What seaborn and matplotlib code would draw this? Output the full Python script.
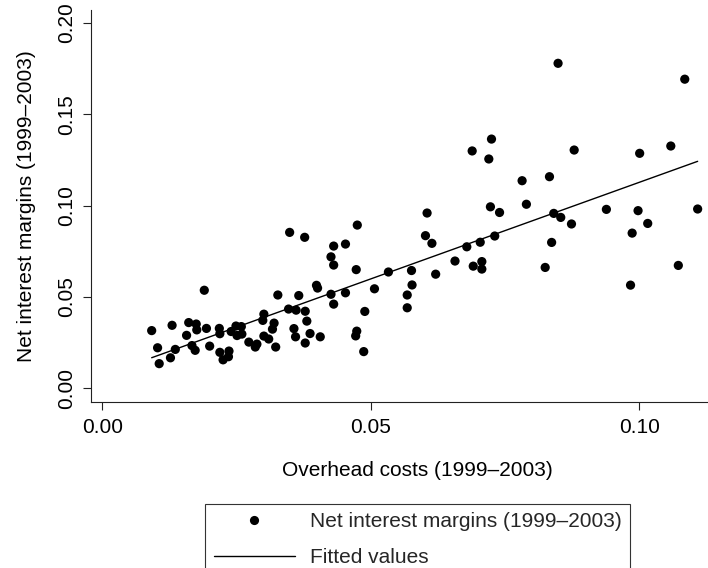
import numpy as np
import pandas as pd
import matplotlib
matplotlib.use("Agg")
import matplotlib.pyplot as plt
from matplotlib.lines import Line2D
import seaborn as sns

# Bank-level averages, 1999-2003
overhead_costs = [
    0.0092, 0.0103, 0.0106, 0.0130, 0.0127, 0.0136, 0.0190, 0.0161, 0.0175, 0.0176,
    0.0157, 0.0167, 0.0173, 0.0194, 0.0200, 0.0218, 0.0219, 0.0219, 0.0225, 0.0236,
    0.0235, 0.0240, 0.0249, 0.0259, 0.0260, 0.0251, 0.0273, 0.0285, 0.0288, 0.0301,
    0.0299, 0.0320, 0.0317, 0.0301, 0.0310, 0.0323, 0.0327, 0.0366, 0.0399, 0.0401,
    0.0347, 0.0361, 0.0378, 0.0381, 0.0357, 0.0360, 0.0387, 0.0378, 0.0406, 0.0349,
    0.0377, 0.0475, 0.0431, 0.0453, 0.0426, 0.0431, 0.0473, 0.0426, 0.0431, 0.0453,
    0.0507, 0.0489, 0.0474, 0.0472, 0.0487, 0.0533, 0.0576, 0.0577, 0.0568, 0.0568,
    0.0605, 0.0602, 0.0614, 0.0621, 0.0657, 0.0679, 0.0704, 0.0691, 0.0707, 0.0707,
    0.0689, 0.0725, 0.0720, 0.0723, 0.0740, 0.0731, 0.0782, 0.0790, 0.0833, 0.0841,
    0.0854, 0.0874, 0.0837, 0.0825, 0.0849, 0.0879, 0.0939, 0.0998, 0.1016, 0.0987,
    0.0984, 0.1001, 0.1059, 0.1085, 0.1073, 0.1109,
]
net_interest_margins = [
    0.0315, 0.0221, 0.0134, 0.0344, 0.0166, 0.0212, 0.0536, 0.0359, 0.0351, 0.0319,
    0.0289, 0.0233, 0.0207, 0.0327, 0.0230, 0.0327, 0.0298, 0.0196, 0.0155, 0.0203,
    0.0172, 0.0310, 0.0340, 0.0337, 0.0296, 0.0288, 0.0252, 0.0225, 0.0241, 0.0405,
    0.0371, 0.0356, 0.0323, 0.0285, 0.0269, 0.0225, 0.0510, 0.0507, 0.0563, 0.0548,
    0.0433, 0.0427, 0.0421, 0.0367, 0.0326, 0.0281, 0.0299, 0.0247, 0.0281, 0.0853,
    0.0826, 0.0893, 0.0778, 0.0789, 0.0719, 0.0674, 0.0649, 0.0514, 0.0460, 0.0522,
    0.0544, 0.0420, 0.0312, 0.0286, 0.0200, 0.0636, 0.0644, 0.0565, 0.0510, 0.0440,
    0.0959, 0.0835, 0.0793, 0.0624, 0.0696, 0.0774, 0.0799, 0.0668, 0.0693, 0.0652,
    0.1299, 0.1364, 0.1255, 0.0993, 0.0962, 0.0833, 0.1136, 0.1007, 0.1158, 0.0957,
    0.0935, 0.0899, 0.0798, 0.0661, 0.1779, 0.1304, 0.0979, 0.0972, 0.0902, 0.0849,
    0.0564, 0.1286, 0.1326, 0.1692, 0.0672, 0.0981,
]

x_ticks = [0.00, 0.05, 0.10]
y_ticks = [0.00, 0.05, 0.10, 0.15, 0.20]

x_title = "Overhead costs (1999–2003)"
y_title = "Net interest margins (1999–2003)"
scatter_label = "Net interest margins (1999–2003)"
fit_label = "Fitted values"

df = pd.DataFrame({"overhead": overhead_costs, "nim": net_interest_margins})

sns.set_theme(style="ticks")
plt.rcParams["font.family"] = ["Liberation Sans", "DejaVu Sans"]

FS = 15

fig = plt.figure(figsize=(7.08, 5.68), dpi=100)
ax = fig.add_axes([0.1281, 0.2931, 0.924, 0.6893])

sns.regplot(
    data=df, x="overhead", y="nim", ci=None, ax=ax,
    scatter_kws=dict(s=44, color="black", edgecolor="none", linewidths=0, alpha=1),
    line_kws=dict(color="black", lw=1.0),
)

ax.set_xlim(-0.00216, 0.1197)
ax.set_ylim(-0.00734, 0.2071)
ax.set_xticks(x_ticks)
ax.set_xticklabels([f"{v:.2f}" for v in x_ticks])
ax.set_yticks(y_ticks)
ax.set_yticklabels([f"{v:.2f}" for v in y_ticks], rotation=90, va="center")

ax.tick_params(axis="both", length=5.8, width=0.8, color="#222222",
               labelsize=FS, labelcolor="black")
ax.tick_params(axis="x", pad=6)
ax.tick_params(axis="y", pad=5)

ax.set_xlabel(x_title, fontsize=FS, labelpad=17, color="black")
ax.set_ylabel(y_title, fontsize=FS, labelpad=15, color="black")

sns.despine(ax=ax)
for side in ("left", "bottom"):
    ax.spines[side].set_linewidth(0.8)
    ax.spines[side].set_color("#222222")

# Legend entries mirror the scatter markers and the regression line
handles = [
    Line2D([], [], ls="none", marker="o", markersize=6.6, color="black",
           markeredgewidth=0),
    Line2D([], [], color="black", lw=1.0),
]
leg = fig.legend(
    handles, [scatter_label, fit_label], loc="upper center",
    bbox_to_anchor=(417.5 / 708, 1 - 504 / 568), borderaxespad=0,
    frameon=True, fancybox=False, shadow=False, framealpha=1,
    edgecolor="#333333", fontsize=FS, borderpad=0.4,
    handlelength=3.9, handletextpad=0.7, labelspacing=0.8,
)
leg.get_frame().set_linewidth(0.8)

fig.savefig("out.png", dpi=100)
